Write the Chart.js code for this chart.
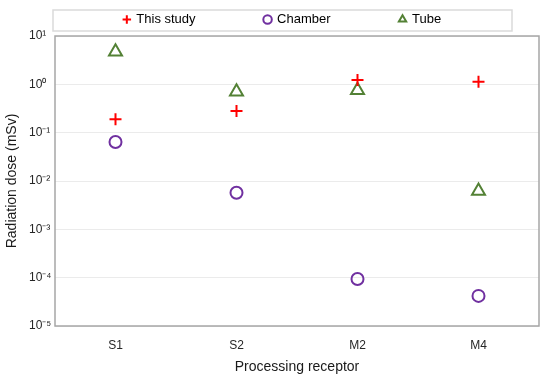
<!DOCTYPE html>
<html lang="en">
<head>
<meta charset="UTF-8">
<title>Radiation dose by processing receptor</title>
<script src="https://cdn.jsdelivr.net/npm/chart.js"></script>
<style>
  body { margin: 0; background: #fff; }
  #wrap { width: 550px; height: 380px; }
</style>
</head>
<body>
<div id="wrap"><canvas id="doseChart" width="550" height="380"></canvas></div>
<script>
const receptors = ['S1', 'S2', 'M2', 'M4'];
const thisStudy = [0.19, 0.28, 1.23, 1.13];
const chamber = [0.064, 0.0057, 0.000094, 0.000042];
const tube = [4.7, 0.70, 0.75, 0.0062];
const yTicks = [1e-5, 1e-4, 1e-3, 1e-2, 1e-1, 1, 10];
const yTickLabels = ['10⁻⁵', '10⁻⁴', '10⁻³', '10⁻²', '10⁻¹', '10⁰', '10¹'];

Chart.defaults.font.family = "'Liberation Sans', Arial, sans-serif";

// frame round the plot and box round the legend
const frames = {
  id: 'frames',
  afterLayout(chart) {
    const a = chart.chartArea, lg = chart.legend;
    lg.left = a.left - 2;
    lg.right = a.right - 27;
  },
  beforeDatasetsDraw(chart) {
    const { ctx, chartArea: a } = chart;
    ctx.save();
    ctx.strokeStyle = '#a6a6a6';
    ctx.lineWidth = 1.5;
    ctx.strokeRect(a.left, a.top, a.right - a.left, a.bottom - a.top);
    ctx.restore();
  },
  afterDraw(chart) {
    const { ctx, chartArea: a, legend: lg } = chart;
    ctx.save();
    ctx.strokeStyle = '#dadada';
    ctx.lineWidth = 1.5;
    ctx.strokeRect(lg.left, a.top - 26, lg.right - lg.left, 21);
    ctx.restore();
  }
};

new Chart(document.getElementById('doseChart'), {
  type: 'line',
  data: {
    labels: receptors,
    datasets: [
      {
        label: 'This study',
        data: thisStudy,
        showLine: false,
        pointStyle: 'cross',
        pointRadius: 6,
        pointBorderWidth: 2,
        borderColor: '#ff0000',
        backgroundColor: '#ff0000'
      },
      {
        label: 'Chamber',
        data: chamber,
        showLine: false,
        pointStyle: 'circle',
        pointRadius: 6,
        pointBorderWidth: 2,
        borderColor: '#7030a0',
        backgroundColor: 'rgba(0,0,0,0)'
      },
      {
        label: 'Tube',
        data: tube,
        showLine: false,
        pointStyle: 'triangle',
        pointRadius: 7.5,
        pointBorderWidth: 2,
        borderColor: '#538135',
        backgroundColor: 'rgba(0,0,0,0)'
      }
    ]
  },
  options: {
    responsive: false,
    animation: false,
    layout: { padding: { top: -56, right: 11, bottom: 4, left: 29 } },
    plugins: {
      tooltip: { enabled: false },
      legend: {
        labels: {
          usePointStyle: true,
          boxWidth: 6,
          boxHeight: 6,
          padding: 69,
          color: '#000',
          font: { size: 13 }
        }
      }
    },
    scales: {
      x: {
        offset: true,
        grid: { display: false, drawTicks: false },
        border: { display: false },
        afterFit: s => { s.height = 50; },
        ticks: { padding: 12, color: '#262626', font: { size: 12 } },
        title: {
          display: true,
          text: 'Processing receptor',
          color: '#1a1a1a',
          font: { size: 14 },
          padding: { top: 4, bottom: 0 }
        }
      },
      y: {
        type: 'logarithmic',
        min: 1e-5,
        max: 10,
        afterBuildTicks: s => { s.ticks = yTicks.map(v => ({ value: v })); },
        afterFit: s => { s.width = 26; },
        grid: { color: '#ebebeb', drawTicks: false },
        border: { display: false },
        ticks: {
          callback: (v, i) => yTickLabels[i],
          crossAlign: 'far',
          padding: 5,
          color: '#262626',
          font: { size: 12 }
        },
        title: {
          display: true,
          text: 'Radiation dose (mSv)',
          color: '#1a1a1a',
          font: { size: 14 },
          padding: { top: -25, bottom: 0 }
        }
      }
    }
  },
  plugins: [frames]
});
</script>
</body>
</html>
